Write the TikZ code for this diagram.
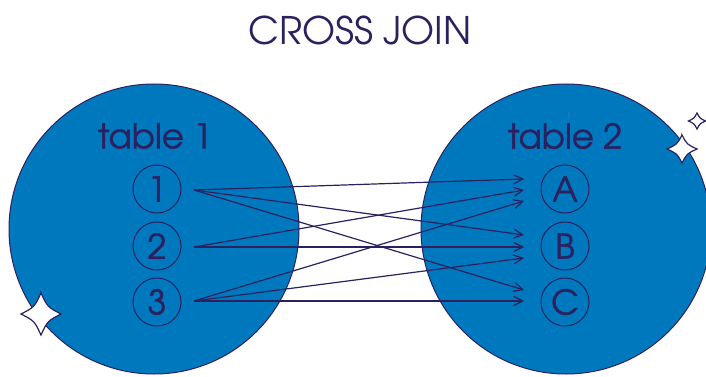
\documentclass[tikz,border=0pt]{standalone}
\usepackage{fontspec}
\setmainfont{texgyreadventor-regular.otf}
\newfontfamily\labelfont{texgyreadventor-regular.otf}[FakeBold=1.2]
\usetikzlibrary{arrows.meta}
\definecolor{navy}{RGB}{43,33,94}
\definecolor{setblue}{RGB}{0,120,190}

\begin{document}
\begin{tikzpicture}[x=1pt,y=-1pt,
  setdisc/.style={circle, draw=navy, line width=1pt, fill=setblue,
    minimum size=290pt, inner sep=0pt},
  setlabel/.style={text=navy, font=\labelfont\bfseries\fontsize{34}{34}\selectfont},
  rowitem/.style={circle, draw=navy, line width=1pt, minimum size=48pt,
    inner sep=0pt, text=navy, font=\labelfont\bfseries\fontsize{34}{34}\selectfont},
  pair/.style={draw=navy, line width=1.2pt,
    -{Straight Barb[length=9pt, width=9pt, line width=1.2pt]}},
  sparkle/.pic={
    \draw[navy, fill=white, line width=1.2pt, line join=miter]
      (0,-1) .. controls (0.33,-0.33) .. (1,0)
             .. controls (0.33,0.33) .. (0,1)
             .. controls (-0.33,0.33) .. (-1,0)
             .. controls (-0.33,-0.33) .. cycle;
  }
]
\useasboundingbox (0,0) rectangle (706,377);
\begin{scope}
\clip (0,0) rectangle (706,377);

% title
\node[text=navy, font=\fontsize{38}{38}\selectfont] (title) at (360,30) {CROSS JOIN};

% the two sets
\node[setdisc] (left) at (154,229) {};
\node[setdisc] (right) at (566,229) {};

\node[setlabel] (lbl1) at (155,136) {table 1};
\node[setlabel] (lbl2) at (565,136) {table 2};

% rows of each table
\node[rowitem] (r1) at (157,189) {1};
\node[rowitem] (r2) at (157,246) {2};
\node[rowitem] (r3) at (157,302) {3};

\node[rowitem] (cA) at (565,189) {A};
\node[rowitem] (cB) at (565,246) {B};
\node[rowitem] (cC) at (565,302) {C};

% arrow start and end points
\coordinate (s1) at (194,190);
\coordinate (s2) at (194,247);
\coordinate (s3) at (194,301);

\coordinate (a1) at (524,179);
\coordinate (a2) at (524,190);
\coordinate (a3) at (524,201);
\coordinate (b1) at (524,235);
\coordinate (b2) at (524,247);
\coordinate (b3) at (524,258);
\coordinate (c1) at (524,290);
\coordinate (c3) at (524,301);

% pairings
\draw[pair] (s1) -- (a1);
\draw[pair] (s1) -- (b1);
\draw[pair] (s1) -- (c1);
\draw[pair] (s2) -- (a2);
\draw[pair] (s2) -- (b2);
\draw[pair] (s3) -- (a3);
\draw[pair] (s3) -- (b3);
\draw[pair] (s3) -- (c3);

% decorative sparkles
\pic[xscale=20, yscale=21] at (41,314) {sparkle};
\pic[xscale=15, yscale=14] at (682,149) {sparkle};
\pic[xscale=8.5, yscale=8] at (697,121) {sparkle};
\end{scope}
\end{tikzpicture}
\end{document}
